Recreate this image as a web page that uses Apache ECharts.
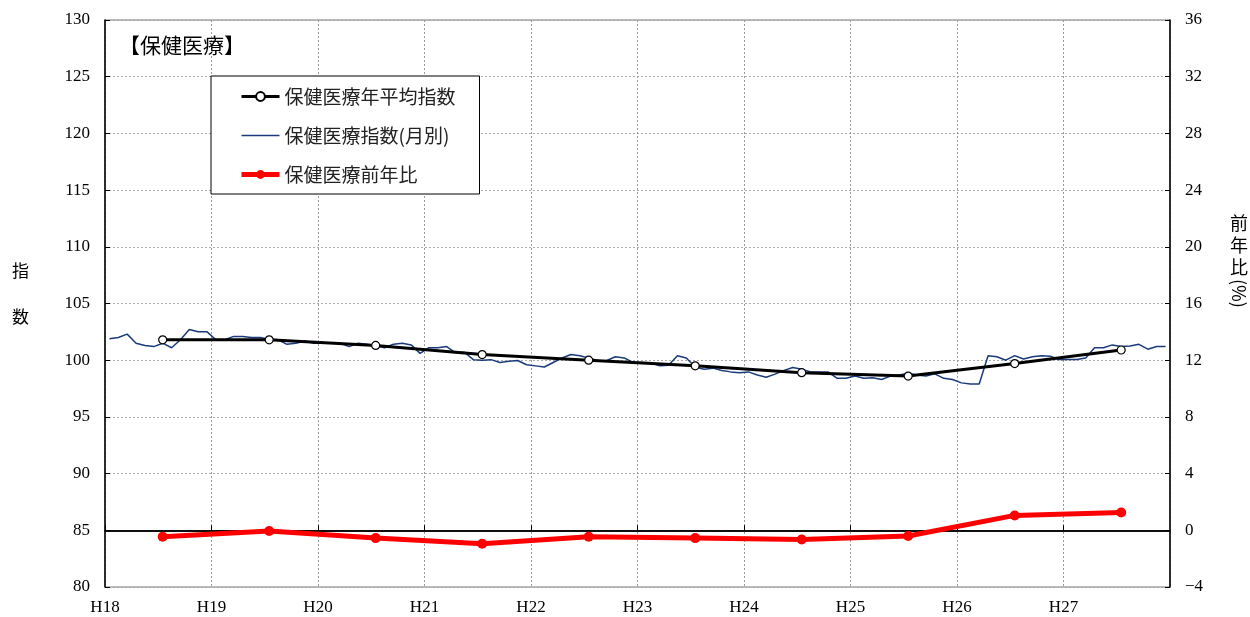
<!DOCTYPE html>
<html>
<head>
<meta charset="utf-8">
<title>保健医療</title>
<script src="https://cdn.jsdelivr.net/npm/echarts@6.0.0/dist/echarts.min.js"></script>
<style>
    html, body { margin: 0; padding: 0; background: #fff; }
    #echarts { width: 1250px; height: 617px; }
</style>
</head>
<body>
<div id="echarts"></div>
<script>
/*年度ラベル*/
var years = ['H18', 'H19', 'H20', 'H21', 'H22', 'H23', 'H24', 'H25', 'H26', 'H27'];

/*保健医療指数（月別） H18.1 ~ H27.12*/
var monthly = [
    101.9, 102.0, 102.3, 101.5, 101.3, 101.2, 101.5, 101.1, 101.8, 102.7, 102.5, 102.5,
    101.8, 101.8, 102.1, 102.1, 102.0, 102.0, 101.85, 101.8, 101.4, 101.5, 101.7, 101.5,
    101.5, 101.5, 101.5, 101.2, 101.5, 101.4, 101.3, 101.1, 101.4, 101.5, 101.35, 100.6,
    101.1, 101.1, 101.2, 100.65, 100.7, 100.05, 100.0, 100.05, 99.8, 99.9, 99.97, 99.6,
    99.5, 99.4, 99.8, 100.2, 100.5, 100.4, 100.2, 99.97, 99.95, 100.3, 100.2, 99.8,
    99.8, 99.77, 99.5, 99.56, 100.4, 100.2, 99.4, 99.2, 99.3, 99.1, 98.97, 98.9,
    98.97, 98.7, 98.5, 98.77, 99.1, 99.35, 99.2, 98.97, 98.97, 98.95, 98.4, 98.4,
    98.6, 98.4, 98.45, 98.3, 98.6, 98.7, 98.85, 98.7, 98.6, 98.8, 98.4, 98.3,
    98.0, 97.9, 97.9, 100.4, 100.3, 100.0, 100.4, 100.1, 100.3, 100.4, 100.35, 100.06,
    100.06, 100.06, 100.2, 101.1, 101.1, 101.35, 101.2, 101.25, 101.4, 100.97, 101.2, 101.2
];

/*年平均指数*/
var yearAvg = [101.8, 101.8, 101.3, 100.5, 100.0, 99.5, 98.9, 98.6, 99.7, 100.9];

/*前年比(%)*/
var yoy = [-0.45, -0.05, -0.55, -0.95, -0.45, -0.55, -0.65, -0.4, 1.05, 1.25];

/*左軸・右軸の目盛*/
var leftTicks = [80, 130, 5];
var rightTicks = [-4, 36, 4];

var serif = '"Liberation Serif", "DejaVu Serif", serif';
var jp = '"Noto Sans CJK JP", sans-serif';

var myChart = echarts.init(document.getElementById('echarts'));

// 月別の点は各月の中央、年平均は年の中央に置く
var monthData = monthly.map(function (v, i) { return [i + 0.5, v]; });
var avgData = yearAvg.map(function (v, i) { return [i * 12 + 6.5, v]; });
var yoyData = yoy.map(function (v, i) { return [i * 12 + 6.5, v]; });

var option = {
    animation: false,
    title: {
        text: '【保健医療】',
        left: 114,
        top: 30,
        textStyle: { fontFamily: jp, fontSize: 21, fontWeight: 'normal', color: '#000' }
    },
    legend: {
        orient: 'vertical',
        left: 211,
        top: 76,
        padding: [11, 24, 10, 28],
        itemWidth: 38,
        itemHeight: 11,
        itemGap: 20,
        backgroundColor: '#fff',
        borderColor: '#000',
        borderWidth: 1,
        borderRadius: 0,
        textStyle: { fontFamily: jp, fontSize: 19, color: '#222' },
        data: [
            { name: '保健医療年平均指数', lineStyle: { width: 3 } },
            { name: '保健医療指数(月別)', itemStyle: { opacity: 0 }, lineStyle: { width: 1.5 } },
            { name: '保健医療前年比', lineStyle: { width: 5 } }
        ]
    },
    grid: {
        left: 105,
        right: 80,
        top: 20,
        bottom: 30,
        show: true,
        borderColor: '#777',
        borderWidth: 1
    },
    xAxis: {
        type: 'value',
        min: 0,
        max: 120,
        interval: 12,
        axisLine: { lineStyle: { color: '#000', width: 1.5 } },
        axisTick: { inside: true, length: 5, lineStyle: { color: '#000' } },
        axisLabel: {
            margin: 12,
            color: '#000',
            fontFamily: serif,
            fontSize: 17,
            showMaxLabel: false,
            formatter: function (v) { return years[v / 12] || ''; }
        },
        splitLine: { show: true, lineStyle: { color: '#999', type: [2, 2], width: 1 } }
    },
    yAxis: [{
        type: 'value',
        min: leftTicks[0],
        max: leftTicks[1],
        interval: leftTicks[2],
        axisLine: { show: true, lineStyle: { color: '#000', width: 1.5 } },
        axisTick: { show: true, inside: true, length: 5, lineStyle: { color: '#000' } },
        axisLabel: { margin: 15, color: '#000', fontFamily: serif, fontSize: 17 },
        splitLine: { show: true, lineStyle: { color: '#aaa', type: [2, 2], width: 1 } }
    }, {
        type: 'value',
        min: rightTicks[0],
        max: rightTicks[1],
        interval: rightTicks[2],
        axisLine: { show: true, lineStyle: { color: '#000', width: 1.5 } },
        axisTick: { show: true, inside: true, length: 5, lineStyle: { color: '#000' } },
        axisLabel: {
            margin: 15,
            color: '#000',
            fontFamily: serif,
            fontSize: 17,
            formatter: function (v) { return v < 0 ? '\u2212' + Math.abs(v) : String(v); }
        },
        splitLine: { show: false }
    }],
    graphic: [
        { type: 'text', left: 12, top: 262, style: { text: '指', font: '17px ' + jp, fill: '#000' } },
        { type: 'text', left: 12, top: 308, style: { text: '数', font: '17px ' + jp, fill: '#000' } },
        { type: 'text', left: 1230, top: 212, style: { text: '前\n年\n比', font: '18px ' + jp, fill: '#000', lineHeight: 22 } },
        { type: 'text', x: 1248, y: 279, rotation: -Math.PI / 2, style: { text: '(%)', font: '18px ' + jp, fill: '#000' } }
    ],
    series: [{
        name: '保健医療指数(月別)',
        type: 'line',
        data: monthData,
        symbol: 'none',
        lineStyle: { color: '#1a3a7c', width: 1.5 },
        itemStyle: { color: '#1a3a7c' },
        z: 2
    }, {
        name: '保健医療年平均指数',
        type: 'line',
        data: avgData,
        symbol: 'circle',
        symbolSize: 8,
        lineStyle: { color: '#000', width: 3 },
        itemStyle: { color: '#fff', borderColor: '#000', borderWidth: 1.2 },
        z: 3
    }, {
        name: '保健医療前年比',
        type: 'line',
        yAxisIndex: 1,
        data: yoyData,
        symbol: 'circle',
        symbolSize: 10,
        lineStyle: { color: '#ff0000', width: 5 },
        itemStyle: { color: '#ff0000' },
        z: 4,
        markLine: {
            silent: true,
            symbol: 'none',
            label: { show: false },
            lineStyle: { color: '#000', width: 1.5, type: 'solid' },
            data: [{ yAxis: 0 }],
            z: 1
        }
    }]
};

myChart.setOption(option);
</script>
</body>
</html>
